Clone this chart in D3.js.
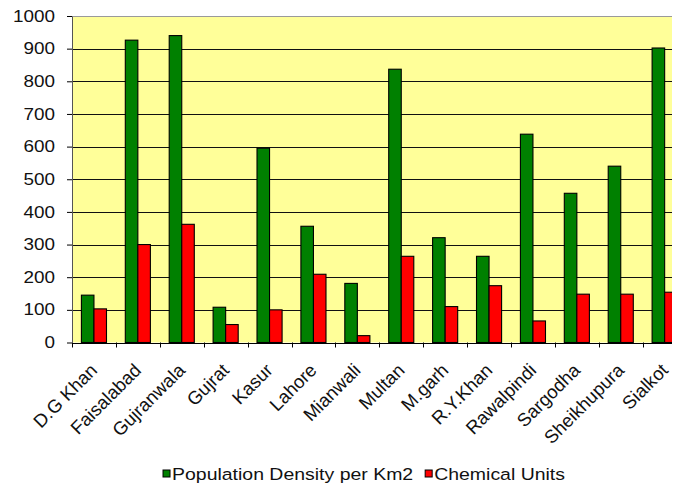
<!DOCTYPE html>
<html>
<head>
<meta charset="utf-8">
<script src="https://cdn.jsdelivr.net/npm/d3@7"></script>
<style>
  html, body { margin: 0; padding: 0; background: #fff; }
  svg { display: block; font-family: "Liberation Sans", Arial, sans-serif; }
</style>
</head>
<body>
<svg id="chart" width="683" height="486"></svg>
<script>
// Districts and their values
const categories = ["D.G Khan", "Faisalabad", "Gujranwala", "Gujrat", "Kasur", "Lahore", "Mianwali",
  "Multan", "M.garh", "R.Y.Khan", "Rawalpindi", "Sargodha", "Sheikhupura", "Sialkot"];
const populationDensity = [145, 926, 940, 108, 595, 356, 181, 837, 321, 264, 638, 457, 540, 902];
const chemicalUnits = [103, 300, 362, 55, 100, 209, 21, 264, 110, 174, 66, 148, 148, 154];
const seriesNames = ["Population Density per Km2", "Chemical Units"];
const seriesColors = ["#008000", "#FF0000"];
const yTicks = [0, 100, 200, 300, 400, 500, 600, 700, 800, 900, 1000];

// Layout
const W = 683, H = 486;
const plotLeft = 72, plotTop = 16, plotBottom = 342.5;
const step = 43.9;
const plotRight = plotLeft + step * categories.length;
const clipRight = 672;
const stretch = 1.18;        // horizontal stretch for tick and legend text
const tickFont = 16;
const labelFont = 18.5;
const legendFont = 16.5;

const svg = d3.select("#chart");

svg.append("defs").append("clipPath").attr("id", "plotClip")
  .append("rect").attr("x", 0).attr("y", 0).attr("width", clipRight).attr("height", H);

const y = d3.scaleLinear().domain([0, 1000]).range([plotBottom, plotTop]);
const x0 = d3.scaleBand().domain(categories).range([plotLeft, plotRight])
  .paddingInner(0.4286).paddingOuter(0.2143);
const x1 = d3.scaleBand().domain([0, 1]).range([0, x0.bandwidth()]);
const xEdge = d3.scaleLinear().domain([0, categories.length]).range([plotLeft, plotRight]);

const plot = svg.append("g").attr("clip-path", "url(#plotClip)");

// Plot background
plot.append("rect")
  .attr("x", plotLeft).attr("y", plotTop)
  .attr("width", plotRight - plotLeft).attr("height", plotBottom - plotTop)
  .attr("fill", "#FFFF99");

// Gridlines
plot.append("g")
  .selectAll("line")
  .data(yTicks.filter(t => t > 0 && t < 1000))
  .join("line")
  .attr("x1", plotLeft).attr("x2", plotRight)
  .attr("y1", d => Math.round(y(d)) + 0.5).attr("y2", d => Math.round(y(d)) + 0.5)
  .attr("stroke", "#111").attr("stroke-width", 1);

// Top border
plot.append("line")
  .attr("x1", plotLeft).attr("x2", plotRight)
  .attr("y1", Math.round(plotTop) + 0.5).attr("y2", Math.round(plotTop) + 0.5)
  .attr("stroke", "#9a9a9a").attr("stroke-width", 1.2);

// Bars
const rows = categories.map((c, i) => ({ c, v: [populationDensity[i], chemicalUnits[i]] }));
const groups = plot.append("g").selectAll("g")
  .data(rows).join("g")
  .attr("transform", d => `translate(${x0(d.c)},0)`);
groups.selectAll("rect")
  .data(d => d.v.map((v, k) => ({ v, k })))
  .join("rect")
  .attr("x", d => x1(d.k))
  .attr("y", d => y(d.v))
  .attr("width", x1.bandwidth())
  .attr("height", d => y(0) - y(d.v))
  .attr("fill", d => seriesColors[d.k])
  .attr("stroke", "#000")
  .attr("stroke-width", 1.1);

// Y axis
const yAxis = svg.append("g")
  .attr("transform", `translate(${plotLeft},0)`)
  .call(d3.axisLeft(y).tickValues(yTicks).tickFormat(d3.format("d"))
    .tickSize(5).tickPadding(12).tickSizeOuter(0));
yAxis.select(".domain").attr("stroke", "#555");
yAxis.selectAll(".tick line").attr("stroke", "#000");
yAxis.selectAll(".tick text")
  .attr("font-size", tickFont)
  .attr("fill", "#111")
  .attr("font-family", "Liberation Sans, Arial, sans-serif")
  .attr("x", -17 / stretch)
  .attr("transform", `scale(${stretch},1)`);

// X axis with ticks at category boundaries
const xAxisG = plot.append("g");
xAxisG.append("line")
  .attr("x1", plotLeft).attr("x2", plotRight)
  .attr("y1", Math.round(plotBottom) + 0.5).attr("y2", Math.round(plotBottom) + 0.5)
  .attr("stroke", "#000");
xAxisG.selectAll("line.tk")
  .data(d3.range(categories.length + 1))
  .join("line").attr("class", "tk")
  .attr("x1", d => Math.round(xEdge(d)) + 0.5).attr("x2", d => Math.round(xEdge(d)) + 0.5)
  .attr("y1", plotBottom).attr("y2", plotBottom + 5)
  .attr("stroke", "#000");

// Rotated category labels
svg.append("g").selectAll("text")
  .data(categories)
  .join("text")
  .attr("transform", d => `translate(${x0(d) + x0.bandwidth() / 2 - 5},362) rotate(-45)`)
  .attr("text-anchor", "end")
  .attr("dy", "0.72em")
  .attr("font-size", labelFont)
  .attr("fill", "#111")
  .text(d => d);

// Legend
const legend = svg.append("g");
const items = legend.selectAll("g").data(seriesNames).join("g");
items.append("rect")
  .attr("width", 7).attr("height", 7)
  .attr("y", -4)
  .attr("fill", (d, i) => seriesColors[i])
  .attr("stroke", "#000").attr("stroke-width", 1);
items.append("text")
  .attr("transform", `translate(9,0) scale(${stretch},1)`)
  .attr("dy", "0.36em")
  .attr("font-size", legendFont)
  .attr("fill", "#111")
  .text(d => d);
const widths = [];
items.each(function () {
  widths.push(9 + d3.select(this).select("text").node().getComputedTextLength() * stretch);
});
const gap = 12;
const total = d3.sum(widths) + gap * (widths.length - 1);
let legendX = 364 - total / 2;
items.attr("transform", (d, i) => {
  const t = `translate(${legendX},474)`;
  legendX += widths[i] + gap;
  return t;
});
</script>
</body>
</html>
